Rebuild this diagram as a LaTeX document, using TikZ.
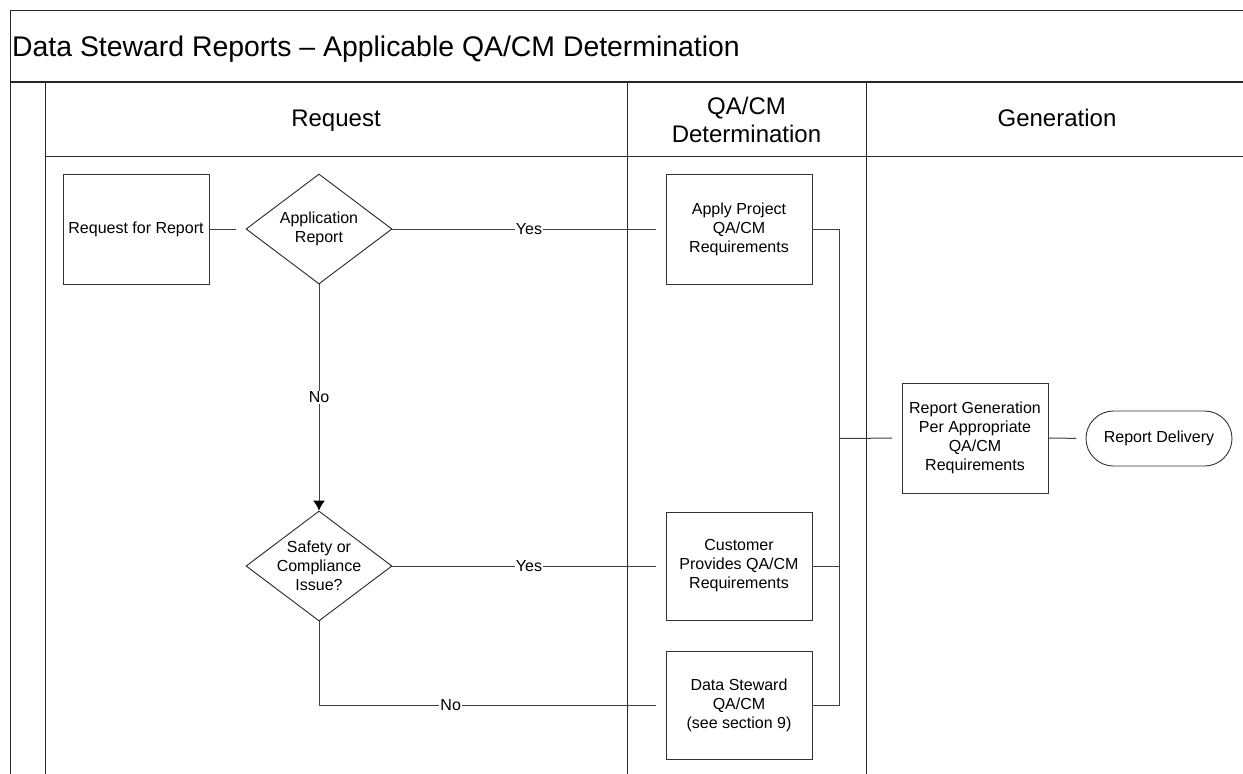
\documentclass[tikz,border=0pt]{standalone}
\usepackage{fontspec}
\setmainfont{Liberation Sans}
\usetikzlibrary{shapes.geometric,arrows.meta}
\begin{document}
\begin{tikzpicture}[x=1pt,y=-1pt,
  lane/.style={draw=black!85, line width=1pt},
  conn/.style={draw=black!75, line width=1pt},
  gap/.style={shorten >=9.5pt},
  small/.style={font={\fontsize{16}{19}\selectfont}},
  box/.style={draw=black!80, line width=0.9pt, minimum width=146pt, minimum height=110pt, align=center, inner sep=0pt, small},
  dec/.style={draw=black!85, line width=0.9pt, diamond, minimum width=146pt, minimum height=110pt, inner sep=0pt},
  term/.style={draw=black!80, line width=0.9pt, rounded corners=27.5pt, minimum width=146pt, minimum height=55pt, align=center, inner sep=0pt, small},
  lbl/.style={fill=white, inner sep=1pt, small},
  head/.style={align=center, inner sep=0pt, font={\fontsize{24}{28.5}\selectfont}}
]
\useasboundingbox (0,0) rectangle (1243,774);
\fill[white] (0,0) rectangle (1243,774);

% frame and lanes
\draw[lane] (10,774) -- (10,10) -- (1243,10);
\draw[lane, line width=1.6pt] (10,82) -- (1243,82);
\draw[lane] (45,82) -- (45,774);
\draw[lane] (627,82) -- (627,774);
\draw[lane] (866,82) -- (866,774);
\draw[lane] (45,156) -- (1243,156);

\node[anchor=base west, inner sep=0pt, font={\fontsize{28.4}{34}\selectfont}] (title) at (12,56.5) {Data Steward Reports -- Applicable QA/CM Determination};

\node[head, anchor=base] (h1) at (336,126.5) {Request};
\node[head] (h2) at (746.5,120) {QA/CM\\Determination};
\node[head, anchor=base] (h3) at (1057,126.5) {Generation};

% nodes
\node[box] (req) at (136,229) {Request for Report};
\node[dec, label={[small, align=center]center:Application\\Report}] (d1) at (319,229) {};
\node[box] (apply) at (739,229) {Apply Project\\QA/CM\\Requirements};
\node[dec, label={[small, align=center]center:Safety or\\Compliance\\Issue?}] (d2) at (319,566) {};
\node[box, minimum height=108pt] (cust) at (739,566) {Customer\\Provides QA/CM\\Requirements};
\node[box, minimum height=108pt] (ds) at (739,705) {Data Steward\\QA/CM\\(see section 9)};
\node[box] (gen) at (975,438) {Report Generation\\Per Appropriate\\QA/CM\\Requirements};
\node[term] (del) at (1159,438.5) {Report Delivery};

\coordinate (bt) at (839,229);
\coordinate (bj) at (839,438.5);
\coordinate (bb) at (839,705);

% connectors
\draw[conn, gap] (req.east) -- (d1.west);
\draw[conn, gap] (d1.east) -- node[lbl] {Yes} (apply.west);
\draw[conn, -{Latex[length=10pt,width=12pt,color=black]}] (d1.south) -- node[lbl] {No} (d2.north);
\draw[conn, gap] (d2.east) -- node[lbl] {Yes} (cust.west);
\draw[conn, gap] (d2.south) |- node[lbl, pos=0.69] {No} (ds.west);
\draw[conn] (apply.east) -- (bt) -- (bb) -- (ds.east);
\draw[conn] (cust.east) -- (cust.east -| bt);
\draw[conn, gap] (bj) -- (gen.west);
\draw[conn, gap] (gen.east) -- (del.west);
\end{tikzpicture}
\end{document}
